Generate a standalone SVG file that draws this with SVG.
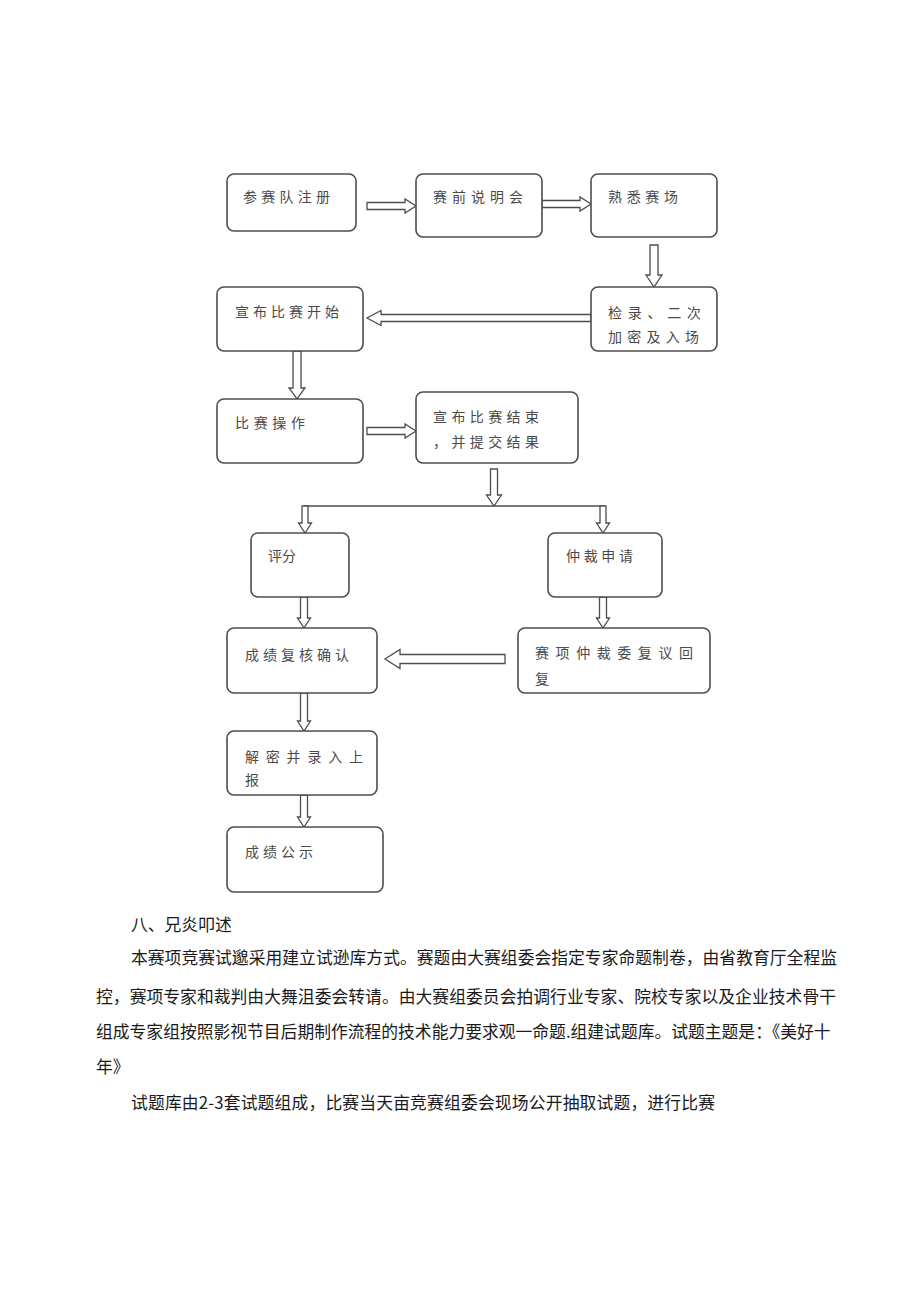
<svg xmlns="http://www.w3.org/2000/svg" width="920" height="1301" viewBox="0 0 920 1301">
<style>
.box{fill:#fff;stroke:#4d4d4d;stroke-width:1.6}
.lbl{font-family:"Noto Sans CJK SC","Noto Sans CJK TC",sans-serif;font-size:14px;fill:#4a4a4a}
.arr{fill:#fff;stroke:#4d4d4d;stroke-width:1.3;stroke-linejoin:miter}
.ln{fill:none;stroke:#4d4d4d;stroke-width:1.3}
.body{font-family:"Noto Sans CJK SC","Noto Sans CJK TC",sans-serif;font-size:16.8px;fill:#1a1a1a}
</style>
<rect width="920" height="1301" fill="#fff"/>
<g id="connectors">
<polygon class="arr" points="367,202.5 405,202.5 405,199 416,206 405,213 405,209.5 367,209.5"/>
<polygon class="arr" points="542,200.5 580,200.5 580,197 591,204 580,211 580,207.5 542,207.5"/>
<polygon class="arr" points="650,245 658,245 658,275 662,275 654,287 646,275 650,275"/>
<polygon class="arr" points="591,314.5 381,314.5 381,310.5 367,318 381,325.5 381,321.5 591,321.5"/>
<polygon class="arr" points="293,351 301,351 301,388 305,388 297,399 289,388 293,388"/>
<polygon class="arr" points="367,427.5 405,427.5 405,424 416,431 405,438 405,434.5 367,434.5"/>
<polygon class="arr" points="490.5,469 497.5,469 497.5,495 501.5,495 494,506 486.5,495 490.5,495"/>
<path class="ln" d="M304 506 H604"/>
<polygon class="arr" points="302,506 308,506 308,523 311.5,523 305,533 298.5,523 302,523"/>
<polygon class="arr" points="600,506 606,506 606,523 609.5,523 603,533 596.5,523 600,523"/>
<polygon class="arr" points="300.5,597 307.5,597 307.5,618 310.5,618 304,628 297.5,618 300.5,618"/>
<polygon class="arr" points="599.5,597 606.5,597 606.5,618 609.5,618 603,628 596.5,618 599.5,618"/>
<polygon class="arr" points="505,654.5 400,654.5 400,649.5 385,659 400,668.5 400,663.5 505,663.5"/>
<polygon class="arr" points="300.5,693 307.5,693 307.5,721 310.5,721 304,731 297.5,721 300.5,721"/>
<polygon class="arr" points="300.5,795 307.5,795 307.5,817 310.5,817 304,827 297.5,817 300.5,817"/>
</g>
<g id="n1"><rect class="box" x="227" y="174" width="129" height="57" rx="7"/><text class="lbl" x="243" y="202" textLength="87" lengthAdjust="spacing">参赛队注册</text></g>
<g id="n2"><rect class="box" x="416" y="174" width="126" height="63" rx="7"/><text class="lbl" x="433" y="202" textLength="90" lengthAdjust="spacing">赛前说明会</text></g>
<g id="n3"><rect class="box" x="591" y="174" width="126" height="63" rx="7"/><text class="lbl" x="608" y="202" textLength="70" lengthAdjust="spacing">熟悉赛场</text></g>
<g id="n4"><rect class="box" x="217" y="287" width="146" height="64" rx="7"/><text class="lbl" x="235" y="317" textLength="104" lengthAdjust="spacing">宣布比赛开始</text></g>
<g id="n5"><rect class="box" x="591" y="287" width="126" height="64" rx="7"/><text class="lbl" x="608" y="318" textLength="93" lengthAdjust="spacing">检录、二次</text><text class="lbl" x="608" y="342" textLength="91" lengthAdjust="spacing">加密及入场</text></g>
<g id="n6"><rect class="box" x="217" y="399" width="146" height="64" rx="7"/><text class="lbl" x="235" y="428" textLength="70" lengthAdjust="spacing">比赛操作</text></g>
<g id="n7"><rect class="box" x="416" y="392" width="162" height="71" rx="7"/><text class="lbl" x="433" y="422" textLength="106" lengthAdjust="spacing">宣布比赛结束</text><text class="lbl" x="433" y="447" textLength="106" lengthAdjust="spacing">，并提交结果</text></g>
<g id="n8"><rect class="box" x="251" y="533" width="98" height="64" rx="7"/><text class="lbl" x="268" y="561">评分</text></g>
<g id="n9"><rect class="box" x="548" y="533" width="114" height="64" rx="7"/><text class="lbl" x="566" y="561" textLength="67" lengthAdjust="spacing">仲裁申请</text></g>
<g id="n10"><rect class="box" x="227" y="628" width="150" height="65" rx="7"/><text class="lbl" x="245" y="660" textLength="104" lengthAdjust="spacing">成绩复核确认</text></g>
<g id="n11"><rect class="box" x="518" y="628" width="192" height="65" rx="7"/><text class="lbl" x="535" y="658" textLength="158" lengthAdjust="spacing">赛项仲裁委复议回</text><text class="lbl" x="535" y="684">复</text></g>
<g id="n12"><rect class="box" x="227" y="731" width="150" height="64" rx="7"/><text class="lbl" x="245" y="762" textLength="118" lengthAdjust="spacing">解密并录入上</text><text class="lbl" x="245" y="785">报</text></g>
<g id="n13"><rect class="box" x="227" y="827" width="156" height="65" rx="7"/><text class="lbl" x="245" y="857" textLength="68" lengthAdjust="spacing">成绩公示</text></g>
<g id="body-text">
<text class="body" x="131" y="931">八、兄炎叩述</text>
<text class="body" x="131" y="964" textLength="706" lengthAdjust="spacing">本赛项竞赛试邈采用建立试逊库方式。赛题由大赛组委会指定专家命题制卷，由省教育厅全程监</text>
<text class="body" x="96" y="1003" textLength="740" lengthAdjust="spacing">控，赛项专家和裁判由大舞沮委会转请。由大赛组委员会拍调行业专家、院校专家以及企业技术骨干</text>
<text class="body" x="96" y="1038">组成专家组按照影视节目后期制作流程的技术能力要求观一命题.组建试题库。试题主题是：《美好十</text>
<text class="body" x="96" y="1073">年》</text>
<text class="body" x="131" y="1109" textLength="584" lengthAdjust="spacing">试题库由2-3套试题组成，比赛当天亩竞赛组委会现场公开抽取试题，进行比赛</text>
</g>
</svg>
